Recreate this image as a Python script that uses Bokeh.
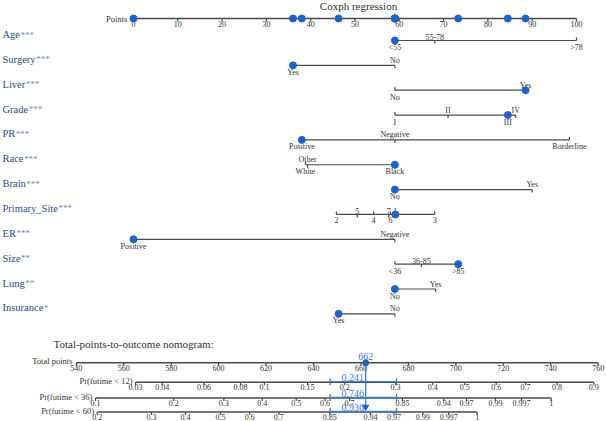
from bokeh.plotting import figure
from bokeh.models import Range1d
from bokeh.embed import file_html
from bokeh.resources import INLINE
from bokeh.core.properties import value

# ---------------- data ----------------
points_ticks = [0, 10, 20, 30, 40, 50, 60, 70, 80, 90, 100]

var_names = ["Age", "Surgery", "Liver", "Grade", "PR", "Race", "Brain",
             "Primary_Site", "ER", "Size", "Lung", "Insurance"]
var_stars = ["***", "***", "***", "***", "***", "***", "***", "***", "***", "**", "**", "*"]

age_levels = ["<55", "55-78", ">78"]
age_points = [59, 68, 100]
surgery_levels = ["Yes", "No"]
surgery_points = [36, 59]
liver_levels = ["No", "Yes"]
liver_points = [59, 88.5]
grade_levels = ["I", "II", "III", "IV"]
grade_points = [59, 71, 84.5, 86.3]
pr_levels = ["Positive", "Negative", "Borderline"]
pr_points = [38, 59, 98.4]
race_levels = ["White", "Other", "Black"]
race_points = [38.8, 39.3, 59]
brain_levels = ["No", "Yes"]
brain_points = [59, 90]
site_levels = ["2", "5", "4", "7", "6", "1", "3"]
site_points = [45.8, 50.5, 54.2, 57.6, 58.0, 59.1, 68.0]
er_levels = ["Positive", "Negative"]
er_points = [0, 59]
size_levels = ["<36", "36-85", ">85"]
size_points = [59, 65, 73.3]
lung_levels = ["No", "Yes"]
lung_points = [59, 68.2]
insurance_levels = ["Yes", "No"]
insurance_points = [46.3, 59]

selected = ["<55", "Yes", "Yes", "III", "Positive", "Black", "No", "1",
            "Positive", ">85", "No", "Yes"]

total_ticks = [540, 560, 580, 600, 620, 640, 660, 680, 700, 720, 740, 760]

pr12_labels = ["0.03", "0.04", "0.06", "0.08", "0.1", "0.15", "0.2", "0.3",
               "0.4", "0.5", "0.6", "0.7", "0.8", "0.9"]
pr12_points = [565.0, 576.2, 593.8, 609.2, 619.3, 637.5, 653.2, 674.6,
               690.3, 703.8, 717.0, 729.4, 742.7, 758.2]
pr36_labels = ["0.1", "0.2", "0.3", "0.4", "0.5", "0.6", "0.7", "0.85",
               "0.94", "0.97", "0.99", "0.997", "1"]
pr36_points = [548.1, 581.1, 602.2, 618.4, 632.7, 644.9, 655.2, 677.5,
               694.9, 704.5, 716.7, 727.7, 740.2]
pr60_labels = ["0.2", "0.3", "0.4", "0.5", "0.6", "0.7", "0.85", "0.94",
               "0.97", "0.99", "0.997", "1"]
pr60_points = [548.8, 571.7, 586.0, 600.8, 613.1, 625.4, 646.9, 664.0,
               673.9, 686.1, 697.0, 709.0]

pr_names = ["Pr(futime < 12)", "Pr(futime < 36)", "Pr(futime < 60)"]
pred_probs = ["0.241", "0.746", "0.936"]
pred_low = [647, 647, 647]
pred_high = [675, 675, 675]

# ---------------- layout / style ----------------
FONT = "Liberation Serif"
BLUE = "#1f63c6"
ABLUE = "#3d7bd4"
NAVY = "#2e4b86"
STAR = "#7089bb"
LINE = "#4a4a4a"
TXT = "#333333"

W, H = 606, 421
PX0, PY0 = 0, 0
pt_x0, pt_scale = 133.0, 4.43
tot_x0, tot_scale, tot_ref = 75.8, 2.372, 540.0

# Times/Liberation Serif advance widths (em) for name labels
CW = {"A": .722, "g": .5, "e": .444, "S": .556, "u": .5, "r": .333, "y": .5,
      "L": .611, "i": .278, "v": .5, "G": .722, "a": .444, "d": .5, "P": .556,
      "R": .667, "c": .444, "B": .667, "n": .5, "m": .778, "_": .5, "t": .278,
      "E": .611, "z": .444, "I": .333, "s": .389}

p = figure(width=W, height=H, output_backend="svg", toolbar_location=None,
           x_range=Range1d((PX0 - pt_x0) / pt_scale, (PX0 + W - pt_x0) / pt_scale),
           y_range=Range1d(PY0 + H, PY0),
           x_axis_location=None, y_axis_location=None, min_border=0)
p.extra_x_ranges = {"tot": Range1d(tot_ref + (PX0 - tot_x0) / tot_scale,
                                   tot_ref + (PX0 + W - tot_x0) / tot_scale)}
p.grid.visible = False
p.outline_line_color = None
p.background_fill_color = "white"
p.border_fill_color = "white"


def txt(xs, ys, texts, size, align="center", baseline="middle", color=TXT, rng=None):
    kw = dict(x=xs, y=ys, text=texts, text_font=value(FONT),
              text_font_size=f"{size}px", text_align=align,
              text_baseline=baseline, text_color=color)
    if rng:
        kw["x_range_name"] = rng
    p.text(**kw)


def seg(x0, y0, x1, y1, color=LINE, width=1.2, rng=None):
    kw = dict(x0=x0, y0=y0, x1=x1, y1=y1, line_color=color, line_width=width)
    if rng:
        kw["x_range_name"] = rng
    p.segment(**kw)


# title
txt([(358 - pt_x0) / pt_scale], [5.5], ["Coxph regression"], 11)

# Points axis
AX_Y = 18
seg([0], [AX_Y], [100], [AX_Y], width=1.4)
seg(points_ticks, [AX_Y] * len(points_ticks), points_ticks, [AX_Y + 3] * len(points_ticks))
txt(points_ticks, [AX_Y + 2.5] * len(points_ticks), [str(t) for t in points_ticks], 8, baseline="top")
txt([-1.4], [AX_Y], ["Points"], 8.5, align="right")

all_levels = [age_levels, surgery_levels, liver_levels, grade_levels, pr_levels,
              race_levels, brain_levels, site_levels, er_levels, size_levels,
              lung_levels, insurance_levels]
all_points = [age_points, surgery_points, liver_points, grade_points, pr_points,
              race_points, brain_points, site_points, er_points, size_points,
              lung_points, insurance_points]

ROW0, DY = 40.0, 24.85
NAME_FS = 10.5
name_px = 2.0
name_x = (name_px - pt_x0) / pt_scale
sel_pts = []
for i, (levs, pts) in enumerate(zip(all_levels, all_points)):
    y = ROW0 + i * DY
    nm = var_names[i]
    txt([name_x], [y - 6], [nm], NAME_FS, align="left", color=NAVY)
    wpx = sum(CW.get(c, .5) for c in nm) * NAME_FS
    txt([(name_px + wpx + 0.5 - pt_x0) / pt_scale], [y - 6], [var_stars[i]], 9,
        align="left", color=STAR)
    seg([min(pts)], [y], [max(pts)], [y], width=1.2)
    order = sorted(range(len(pts)), key=lambda k: pts[k])
    for rank, k in enumerate(order):
        if rank % 2 == 0:   # label below, tick up
            seg([pts[k]], [y], [pts[k]], [y - 3])
            txt([pts[k]], [y + 2.5], [levs[k]], 8, baseline="top")
        else:               # label above, tick down
            seg([pts[k]], [y], [pts[k]], [y + 3])
            txt([pts[k]], [y - 0.5], [levs[k]], 8, baseline="bottom")
    sp = pts[levs.index(selected[i])]
    sel_pts.append(sp)
    p.scatter([sp], [y], size=7, color=BLUE)

p.scatter(sel_pts, [AX_Y] * len(sel_pts), size=7, color=BLUE)

total = sum(sel_pts)

# bottom section
txt([(53 - pt_x0) / pt_scale], [343], ["Total-points-to-outcome nomogram:"], 11, align="left")

TOT_Y = 362.3
seg([total_ticks[0]], [TOT_Y], [total_ticks[-1]], [TOT_Y], width=1.5, rng="tot")
seg(total_ticks, [TOT_Y] * len(total_ticks), total_ticks, [TOT_Y + 3] * len(total_ticks), rng="tot")
txt(total_ticks, [TOT_Y + 2.5] * len(total_ticks), [str(t) for t in total_ticks], 8, baseline="top", rng="tot")
txt([total_ticks[0] - 1.6], [TOT_Y - 1.5], ["Total points"], 8.5, align="right", rng="tot")

PR_Y = [381.7, 397.5, 411.5]
for ys, labs, pts, nm in zip(PR_Y, [pr12_labels, pr36_labels, pr60_labels],
                             [pr12_points, pr36_points, pr60_points], pr_names):
    seg([pts[0]], [ys], [pts[-1]], [ys], width=1.5, rng="tot")
    seg(pts, [ys] * len(pts), pts, [ys + 3] * len(pts), rng="tot")
    txt(pts, [ys + 1.5] * len(pts), labs, 8, baseline="top", rng="tot")
    txt([pts[0] - 1.3], [ys - 1.5], [nm], 8.5, align="right", rng="tot")

# prediction annotation
tv = round(total)
txt([tv], [356], [str(tv)], 10, color=ABLUE, rng="tot")
seg([tv], [TOT_Y], [tv], [PR_Y[2] - 6], color=ABLUE, width=1.3, rng="tot")
p.scatter([tv], [TOT_Y], size=6, color=BLUE, x_range_name="tot")
p.scatter([tv], [PR_Y[2] - 5], size=6, marker="inverted_triangle", color=BLUE, x_range_name="tot")
for ys, lab, lo, hi in zip(PR_Y, pred_probs, pred_low, pred_high):
    yb = ys - 0.5
    seg([lo], [yb], [hi], [yb], color=ABLUE, width=1.3, rng="tot")
    seg([lo, hi], [yb - 3.5, yb - 3.5], [lo, hi], [yb + 3.5, yb + 3.5], color=ABLUE, width=1.3, rng="tot")
    txt([(lo + hi) / 2 - 4.5], [yb - 4.5], [lab], 10, color=ABLUE, rng="tot")

open("out.html", "w").write(file_html(p, INLINE))
